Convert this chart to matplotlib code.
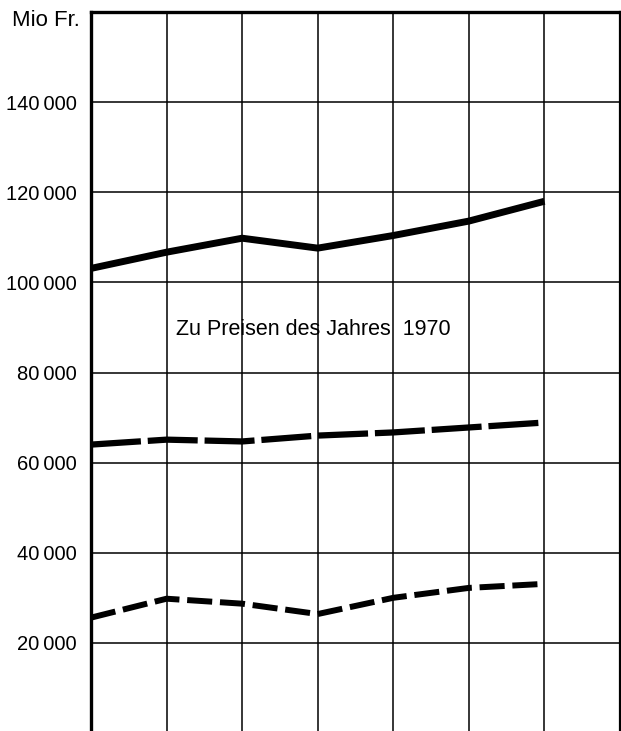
import matplotlib
matplotlib.use("Agg")
import matplotlib.pyplot as plt
from matplotlib.ticker import FixedLocator

plt.rcParams['font.family'] = ['Liberation Sans', 'DejaVu Sans']

positions = [0, 1, 2, 3, 4, 5, 6]
series_total = [103100, 106700, 109800, 107600, 110400, 113600, 118000]
series_mid = [64000, 65100, 64700, 66000, 66700, 67800, 68900]
series_low = [25600, 29800, 28700, 26400, 30000, 32200, 33100]
ytick_values = [20000, 40000, 60000, 80000, 100000, 120000, 140000]
ytick_labels = ["20\u2009000", "40\u2009000", "60\u2009000", "80\u2009000",
                "100\u2009000", "120\u2009000", "140\u2009000"]
annotation = "Zu Preisen des Jahres  1970"
unit_label = "Mio Fr."

W, H = 621, 731
fig = plt.figure(figsize=(W / 100, H / 100), dpi=100)
ax = fig.add_axes([91 / W, -2 / H, (620 - 91) / W, (731 - 12 + 2) / H])

ax.set_xlim(0, 7)
ax.set_ylim(0, 160000)

for x in range(1, 7):
    ax.axvline(x, color='black', lw=1.1, zorder=1)
for y in ytick_values:
    ax.axhline(y, color='black', lw=1.1, zorder=1)

ax.plot(positions, series_total, color='black', lw=5.0, solid_capstyle='butt', zorder=3)
ax.plot(positions, series_mid, color='black', lw=4.5, linestyle=(0, (8.0, 1.1)),
        dash_capstyle='butt', zorder=3)
ax.plot(positions, series_low, color='black', lw=4.3, linestyle=(0, (4.2, 1.3)),
        dash_capstyle='butt', zorder=3)

ax.set_xticks([])
ax.yaxis.set_major_locator(FixedLocator(ytick_values))
ax.set_yticklabels(ytick_labels, fontsize=14.5)
ax.tick_params(axis='y', length=0, pad=10)

for side in ['left', 'top']:
    ax.spines[side].set_linewidth(2.4)
ax.spines['right'].set_linewidth(1.6)
ax.spines['bottom'].set_visible(False)

ax.text(1.12, 89500, annotation, fontsize=15.5, va='center', ha='left', zorder=4)
fig.text(80 / W, 1 - 20 / H, unit_label, fontsize=16, ha='right', va='center')

fig.savefig("out.png", dpi=100)
